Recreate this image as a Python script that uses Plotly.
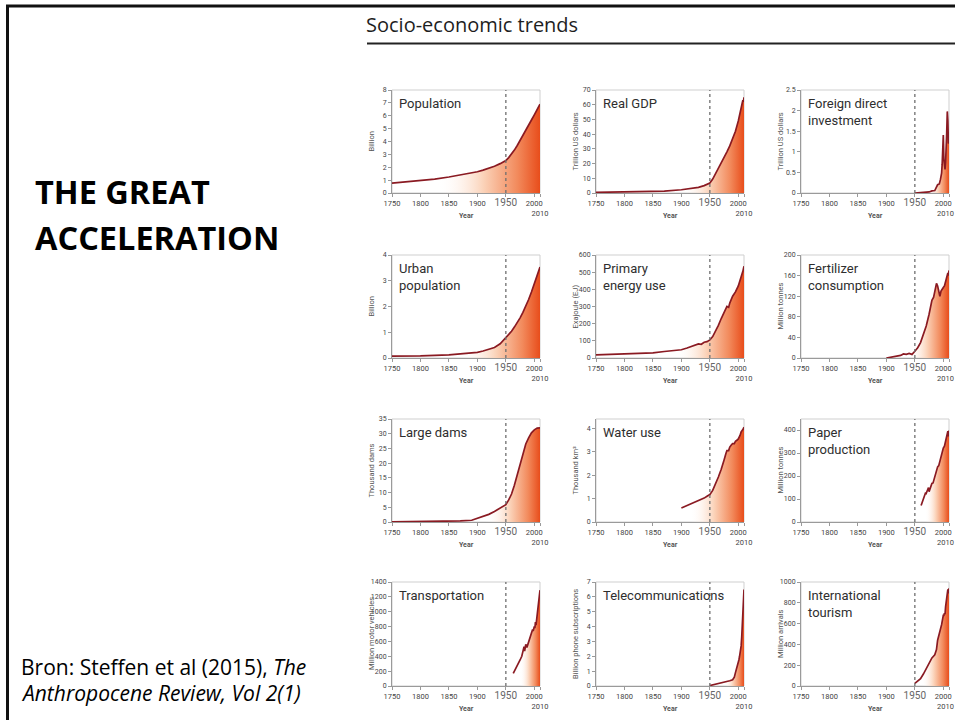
import plotly.graph_objects as go

# ---------------- data ----------------
MARKER_YEAR = 1950
X_TICKS = [1750, 1800, 1850, 1900, 1950, 2000, 2010]

titles = ["Population", "Real GDP", "Foreign direct\ninvestment",
          "Urban\npopulation", "Primary\nenergy use", "Fertilizer\nconsumption",
          "Large dams", "Water use", "Paper\nproduction",
          "Transportation", "Telecommunications", "International\ntourism"]

y_titles = ["Billion", "Trillion US dollars", "Trillion US dollars",
            "Billion", "Exajoule (EJ)", "Million tonnes",
            "Thousand dams", "Thousand km³", "Million tonnes",
            "Million motor vehicles", "Billion phone subscriptions", "Million arrivals"]

y_ticks = [[0, 1, 2, 3, 4, 5, 6, 7, 8],
           [0, 10, 20, 30, 40, 50, 60, 70],
           [0, 0.5, 1, 1.5, 2, 2.5],
           [0, 1, 2, 3, 4],
           [0, 100, 200, 300, 400, 500, 600],
           [0, 40, 80, 120, 160, 200],
           [0, 5, 10, 15, 20, 25, 30, 35],
           [0, 1, 2, 3, 4],
           [0, 100, 200, 300, 400],
           [0, 200, 400, 600, 800, 1000, 1200, 1400],
           [0, 1, 2, 3, 4, 5, 6, 7],
           [0, 200, 400, 600, 800, 1000]]
y_max = [8, 70, 2.5, 4, 600, 200, 35, 4.4, 448, 1400, 7, 1000]

pop_years = [1750, 1775, 1800, 1825, 1850, 1875, 1900, 1910, 1920, 1930, 1940, 1950,
             1955, 1960, 1965, 1970, 1975, 1980, 1985, 1990, 1995, 2000, 2005, 2010]
pop_vals = [0.76, 0.85, 0.95, 1.08, 1.24, 1.42, 1.65, 1.78, 1.92, 2.08, 2.28, 2.52,
            2.75, 3.02, 3.33, 3.69, 4.07, 4.43, 4.83, 5.26, 5.67, 6.07, 6.45, 6.9]

gdp_years = [1750, 1800, 1850, 1870, 1900, 1913, 1930, 1940, 1950, 1955, 1960, 1965,
             1970, 1975, 1980, 1985, 1990, 1995, 2000, 2005, 2008, 2009, 2010]
gdp_vals = [0.4, 0.6, 1.0, 1.3, 2.2, 3.0, 3.8, 5.0, 6.8, 9.5, 13, 16.5,
            20, 23.5, 28, 32, 37, 42, 49, 57, 63, 62, 65]

fdi_years = [1950, 1960, 1970, 1975, 1980, 1985, 1990, 1993, 1995, 1997, 1998, 1999,
             2000, 2001, 2002, 2003, 2004, 2005, 2006, 2007, 2008, 2009, 2010]
fdi_vals = [0.0, 0.005, 0.013, 0.025, 0.05, 0.06, 0.2, 0.22, 0.33, 0.48, 0.7, 1.1,
            1.41, 0.82, 0.62, 0.57, 0.74, 0.98, 1.46, 1.98, 1.75, 1.2, 1.3]

urb_years = [1750, 1800, 1850, 1875, 1900, 1910, 1920, 1930, 1940, 1950, 1955, 1960,
             1965, 1970, 1975, 1980, 1985, 1990, 1995, 2000, 2005, 2010]
urb_vals = [0.07, 0.08, 0.12, 0.16, 0.22, 0.27, 0.33, 0.41, 0.55, 0.78, 0.9, 1.04,
            1.2, 1.37, 1.56, 1.77, 2.0, 2.27, 2.56, 2.87, 3.19, 3.53]

nrg_years = [1750, 1800, 1850, 1870, 1900, 1910, 1920, 1925, 1930, 1935, 1940, 1945,
             1950, 1955, 1960, 1965, 1970, 1975, 1980, 1983, 1985, 1990, 1995, 2000,
             2005, 2008, 2010]
nrg_vals = [18, 22, 30, 38, 48, 58, 70, 75, 82, 80, 92, 95,
            105, 125, 155, 190, 230, 265, 300, 295, 320, 360, 385, 420,
            470, 505, 535]

fert_years = [1900, 1905, 1910, 1915, 1920, 1925, 1930, 1935, 1940, 1945, 1950, 1955,
              1960, 1965, 1970, 1975, 1978, 1980, 1983, 1985, 1988, 1990, 1992, 1994,
              1996, 1998, 2000, 2002, 2004, 2006, 2008, 2009, 2010]
fert_vals = [0, 1, 2, 2.5, 4, 5, 8, 7, 9, 7, 13, 20,
             30, 45, 62, 85, 102, 112, 118, 130, 145, 140, 128, 120,
             130, 135, 137, 140, 150, 158, 165, 160, 170]

dam_years = [1750, 1800, 1850, 1870, 1890, 1900, 1910, 1920, 1930, 1940, 1950, 1955,
             1960, 1965, 1970, 1975, 1980, 1985, 1990, 1995, 2000, 2005, 2010]
dam_vals = [0.05, 0.1, 0.2, 0.35, 0.6, 1.2, 1.8, 2.6, 3.6, 4.7, 5.9, 7.5,
            9.5, 12.5, 16, 20, 23.5, 26.5, 28.6, 30.3, 31.3, 31.9, 32]

wat_years = [1900, 1905, 1910, 1915, 1920, 1925, 1930, 1935, 1940, 1945, 1950, 1955,
             1960, 1965, 1970, 1972, 1975, 1978, 1980, 1983, 1985, 1988, 1990, 1993,
             1995, 1998, 2000, 2003, 2005, 2008, 2010]
wat_vals = [0.6, 0.65, 0.72, 0.76, 0.82, 0.87, 0.92, 0.95, 1.02, 1.1, 1.17, 1.35,
            1.6, 1.92, 2.25, 2.45, 2.65, 2.9, 3.05, 3.05, 3.2, 3.3, 3.35, 3.35,
            3.45, 3.5, 3.55, 3.7, 3.85, 3.95, 4.05]

pap_years = [1961, 1963, 1965, 1967, 1969, 1970, 1972, 1974, 1975, 1977, 1979, 1980,
             1982, 1984, 1986, 1988, 1990, 1992, 1994, 1996, 1998, 2000, 2002, 2004,
             2006, 2008, 2009, 2010]
pap_vals = [72, 85, 98, 112, 128, 125, 138, 150, 132, 150, 165, 168,
            170, 190, 210, 230, 240, 245, 265, 285, 300, 322, 330, 355,
            380, 395, 372, 398]

trn_years = [1963, 1966, 1969, 1972, 1975, 1978, 1980, 1982, 1983, 1985, 1987, 1990,
             1993, 1995, 1997, 1998, 2000, 2001, 2002, 2003, 2004, 2006, 2008, 2009,
             2010]
trn_vals = [170, 210, 250, 300, 350, 400, 460, 530, 470, 560, 520, 600,
            680, 720, 760, 740, 800, 780, 860, 820, 900, 1000, 1120, 1200,
            1290]

tel_years = [1950, 1955, 1960, 1965, 1970, 1975, 1980, 1985, 1990, 1993, 1995, 1997,
             1999, 2000, 2001, 2002, 2003, 2004, 2005, 2006, 2007, 2008, 2009, 2010]
tel_vals = [0.03, 0.07, 0.11, 0.15, 0.2, 0.25, 0.3, 0.35, 0.42, 0.6, 0.9, 1.15,
            1.4, 1.55, 1.75, 1.95, 2.15, 2.4, 2.7, 3.3, 4.0, 4.7, 5.6, 6.5]

tou_years = [1950, 1955, 1960, 1965, 1970, 1975, 1980, 1985, 1988, 1990, 1993, 1995,
             1997, 2000, 2001, 2002, 2003, 2004, 2005, 2006, 2007, 2008, 2009, 2010]
tou_vals = [25, 45, 70, 115, 165, 215, 270, 300, 350, 440, 500, 540,
            590, 680, 680, 700, 690, 760, 800, 850, 900, 930, 890, 940]

series = [(pop_years, pop_vals), (gdp_years, gdp_vals), (fdi_years, fdi_vals),
          (urb_years, urb_vals), (nrg_years, nrg_vals), (fert_years, fert_vals),
          (dam_years, dam_vals), (wat_years, wat_vals), (pap_years, pap_vals),
          (trn_years, trn_vals), (tel_years, tel_vals), (tou_years, tou_vals)]

# ---------------- styles / layout ----------------
W, H = 955, 720
COL_X = [(392, 540), (596, 744), (801, 949)]
ROW_Y = [(90, 193), (255, 358), (419, 522), (582, 686)]
GRAD_START = [1830, 1900, 1975, 1870, 1890, 1940, 1915, 1915, 1968, 1975, 1975, 1962]
LINE_COLOR = "#8a1a22"
GRAD = [[0, "rgba(255,255,255,0)"], [0.45, "#fbd2b8"], [0.78, "#f28a5c"], [1, "#e84d1b"]]
TXT = "#2e2e2e"
FONT = "Roboto"
TICKFONT = dict(family=FONT, size=7.5, color="#444")


def px_x(p):
    return p / W


def px_y(p):
    return 1 - p / H


fig = go.Figure()
annotations = []
shapes = []
layout = {}

for i in range(12):
    r, c = divmod(i, 3)
    sfx = "" if i == 0 else str(i + 1)
    x0, x1 = COL_X[c]
    y0, y1 = ROW_Y[r]
    yrs, vals = series[i]
    fig.add_trace(go.Scatter(
        x=yrs, y=vals, mode="lines",
        line=dict(color=LINE_COLOR, width=1.7),
        fill="tozeroy",
        fillgradient=dict(type="horizontal", colorscale=GRAD,
                          start=GRAD_START[i], stop=X_TICKS[-1]),
        xaxis="x" + sfx, yaxis="y" + sfx, showlegend=False, hoverinfo="skip"))

    ticktext = [str(t) for t in X_TICKS]
    ticktext[4] = '<span style="font-size:10px;fill:#666">%d</span>' % X_TICKS[4]
    if c < 2:
        ticktext[-1] = "<br>%d" % X_TICKS[-1]
    else:
        # last column: keep the label inside the page edge
        ticktext[-1] = ""
        annotations.append(dict(text=str(X_TICKS[-1]), xref="paper", yref="paper",
                                x=1.0, y=px_y(y1 + 20), xanchor="right",
                                yanchor="middle", showarrow=False, borderpad=0,
                                font=TICKFONT))
    layout["xaxis" + sfx] = dict(
        domain=[px_x(x0), px_x(x1)], anchor="y" + sfx,
        range=[X_TICKS[0], X_TICKS[-1]], tickmode="array",
        tickvals=X_TICKS, ticktext=ticktext, tickangle=0, automargin=False,
        showline=True, linecolor="#9a9a9a", linewidth=1,
        ticks="outside", ticklen=3, tickcolor="#9a9a9a",
        tickfont=TICKFONT,
        showgrid=False, zeroline=False, fixedrange=True)
    layout["yaxis" + sfx] = dict(
        domain=[px_y(y1), px_y(y0)], anchor="x" + sfx,
        range=[0, y_max[i]], tickmode="array", tickvals=y_ticks[i], automargin=False,
        showline=True, linecolor="#9a9a9a", linewidth=1,
        ticks="outside", ticklen=3, tickcolor="#9a9a9a",
        tickfont=dict(family=FONT, size=7, color="#444"),
        showgrid=False, zeroline=False, fixedrange=True)

    # light frame
    shapes.append(dict(type="rect", xref="x%s domain" % sfx, yref="y%s domain" % sfx,
                       x0=0, x1=1, y0=0, y1=1, line=dict(color="#cfcfcf", width=1),
                       layer="below"))
    # 1950 dotted marker
    shapes.append(dict(type="line", xref="x" + sfx, yref="y%s domain" % sfx,
                       x0=MARKER_YEAR, x1=MARKER_YEAR, y0=0, y1=1,
                       line=dict(color="#6f6f6f", width=1.3, dash="dot")))

    # panel title
    annotations.append(dict(text=titles[i].replace("\n", "<br>"),
                            xref="paper", yref="paper",
                            x=px_x(x0 + 5), y=px_y(y0 + 4),
                            xanchor="left", yanchor="top", align="left",
                            showarrow=False,
                            font=dict(family=FONT, size=13, color=TXT)))
    # y title
    annotations.append(dict(text=y_titles[i], xref="paper", yref="paper",
                            x=px_x(x0 - 21), y=px_y((y0 + y1) / 2),
                            xanchor="center", yanchor="middle", textangle=-90,
                            showarrow=False,
                            font=dict(family=FONT, size=7.5, color="#555")))
    # x title
    annotations.append(dict(text="<b>Year</b>", xref="paper", yref="paper",
                            x=px_x((x0 + x1) / 2), y=px_y(y1 + 23),
                            xanchor="center", yanchor="middle", showarrow=False,
                            font=dict(family=FONT, size=7, color="#555")))

# slide decorations
shapes.append(dict(type="line", xref="paper", yref="paper", x0=px_x(6), x1=1,
                   y0=px_y(6), y1=px_y(6), line=dict(color="#111", width=3)))
shapes.append(dict(type="line", xref="paper", yref="paper", x0=px_x(7.5), x1=px_x(7.5),
                   y0=px_y(5), y1=0, line=dict(color="#111", width=3)))
shapes.append(dict(type="line", xref="paper", yref="paper", x0=px_x(367), x1=1,
                   y0=px_y(43.5), y1=px_y(43.5), line=dict(color="#222", width=2)))

annotations.append(dict(text="Socio-economic trends", xref="paper", yref="paper",
                        x=px_x(364), y=px_y(25), xanchor="left", yanchor="middle",
                        showarrow=False,
                        font=dict(family="Open Sans", size=20, color="#1e1e1e")))
for k, ln in enumerate(["THE GREAT", "ACCELERATION"]):
    annotations.append(dict(text="<b>%s</b>" % ln, xref="paper", yref="paper",
                            x=px_x(33), y=px_y(192 + 46 * k), xanchor="left",
                            yanchor="middle", showarrow=False,
                            font=dict(family="Open Sans", size=32.5, color="#000")))
for k, ln in enumerate(["Bron: Steffen et al (2015), <i>The</i>",
                        "<i>Anthropocene Review, Vol 2(1)</i>"]):
    annotations.append(dict(text=ln, xref="paper", yref="paper",
                            x=px_x(19), y=px_y(667 + 26 * k), xanchor="left",
                            yanchor="middle", showarrow=False,
                            font=dict(family="Open Sans", size=21, color="#000")))

fig.update_layout(width=W, height=H, margin=dict(l=0, r=0, t=0, b=0, pad=0),
                  autosize=False,
                  paper_bgcolor="white", plot_bgcolor="white",
                  annotations=annotations, shapes=shapes, **layout)

fig.write_html("out.html")
